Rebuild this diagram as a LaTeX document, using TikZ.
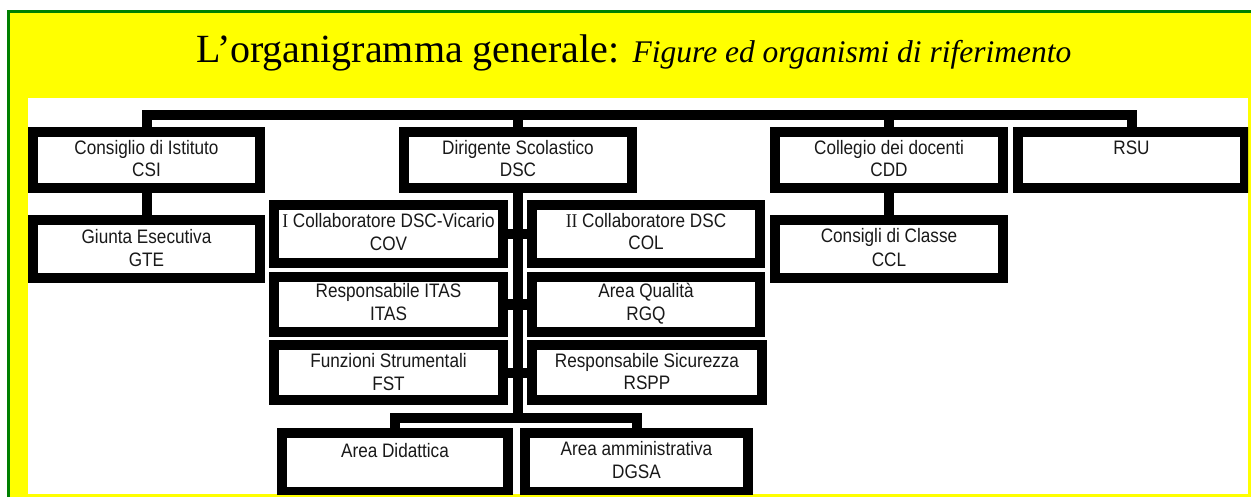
\documentclass[tikz,border=0pt]{standalone}
\usepackage{fontspec}
\setmainfont{Liberation Serif}
\newfontfamily\boxfont[FakeStretch=0.88]{Liberation Sans}
\newfontfamily\romI[FakeStretch=0.9]{Liberation Serif}
\usetikzlibrary{calc}
\definecolor{frameyellow}{HTML}{FFFF00}
\definecolor{framegreen}{HTML}{008000}
\newcommand{\mkbox}[5]{\node[orgbox, minimum width={#4-#2-10}, minimum height={#5-#3-10}] (#1) at ({(#2+#4)/2},{(#3+#5)/2}) {};}
\begin{document}
\begin{tikzpicture}[x=1pt,y=-1pt,
  orgbox/.style={draw=black, line width=10pt, fill=white, inner sep=0pt, rectangle},
  conn/.style={draw=black, line width=10pt, line join=miter},
  lbl/.style={font=\boxfont\fontsize{19.5}{22}\selectfont, inner sep=0pt, anchor=base, text=black!90}]
\useasboundingbox (0,0) rectangle (1251,497);
\fill[white] (0,0) rectangle (1251,497);
\fill[frameyellow] (8,10) rectangle (1251,497);
\draw[framegreen, line width=2.7pt] (8.7,497) -- (8.7,11.3) -- (1251,11.3);
\fill[white] (28,98) rectangle (1248,494);
\node[anchor=base west, inner sep=0pt] (title) at (196,63)
  {\fontsize{40}{46}\selectfont L’organigramma generale: {\itshape\fontsize{31.5}{36}\selectfont Figure ed organismi di riferimento}};
\begin{scope}
\clip (28,98) rectangle (1248,494);
% boxes
\mkbox{csi}{28}{127}{265}{193}
\mkbox{gte}{28}{215}{265}{283}
\mkbox{dsc}{399}{127}{637}{193}
\mkbox{cov}{269}{200}{508}{268}
\mkbox{col}{527}{200}{765}{268}
\mkbox{itas}{269}{272}{508}{337}
\mkbox{rgq}{527}{272}{765}{337}
\mkbox{fst}{269}{340}{508}{405}
\mkbox{rspp}{527}{340}{767}{405}
\mkbox{ad}{277}{428}{513}{497}
\mkbox{aa}{520}{428}{753}{497}
\mkbox{cdd}{770}{127}{1008}{193}
\mkbox{ccl}{770}{215}{1008}{283}
\mkbox{rsu}{1013}{127}{1250}{193}
% connectors
\coordinate (bus) at (600,115.5);
\coordinate (bbus) at (500,417.5);
\draw[conn] (csi.north) -- (csi.north |- bus) -- (rsu.north |- bus) -- (rsu.north);
\draw[conn] (dsc.north) -- (dsc.north |- bus);
\draw[conn] (cdd.north) -- (cdd.north |- bus);
\draw[conn] (csi.south) -- (gte.north);
\draw[conn] (cdd.south) -- (ccl.north);
\draw[conn] (dsc.south) -- (dsc.south |- bbus);
\draw[conn] (ad.north) -- (ad.north |- bbus) -- (aa.north |- bbus) -- (aa.north);
\draw[conn] (cov.east) -- (col.west);
\draw[conn] (itas.east) -- (rgq.west);
\draw[conn] (fst.east) -- (rspp.west);
% labels
\node[lbl] (csia) at ($(csi.north)+(0,28)$) {Consiglio di Istituto};
\node[lbl] (csib) at ($(csi.north)+(0,50)$) {CSI};
\node[lbl] (gtea) at ($(gte.north)+(0,29)$) {Giunta Esecutiva};
\node[lbl] (gteb) at ($(gte.north)+(0,52)$) {GTE};
\node[lbl] (dsca) at ($(dsc.north)+(0,28)$) {Dirigente Scolastico};
\node[lbl] (dscb) at ($(dsc.north)+(0,50)$) {DSC};
\node[lbl] (cova) at ($(cov.north)+(0,28)$) {{\romI I} Collaboratore DSC-Vicario};
\node[lbl] (covb) at ($(cov.north)+(0,51)$) {COV};
\node[lbl] (cola) at ($(col.north)+(0,28)$) {{\romI II} Collaboratore DSC};
\node[lbl] (colb) at ($(col.north)+(0,50)$) {COL};
\node[lbl] (itasa) at ($(itas.north)+(0,26)$) {Responsabile ITAS};
\node[lbl] (itasb) at ($(itas.north)+(0,48)$) {ITAS};
\node[lbl] (rgqa) at ($(rgq.north)+(0,26)$) {Area Qualità};
\node[lbl] (rgqb) at ($(rgq.north)+(0,48)$) {RGQ};
\node[lbl] (fsta) at ($(fst.north)+(0,27)$) {Funzioni Strumentali};
\node[lbl] (fstb) at ($(fst.north)+(0,50)$) {FST};
\node[lbl] (rsppa) at ($(rspp.north)+(0,27)$) {Responsabile Sicurezza};
\node[lbl] (rsppb) at ($(rspp.north)+(0,49)$) {RSPP};
\node[lbl] (ada) at ($(ad.north)+(0,29)$) {Area Didattica};
\node[lbl] (aaa) at ($(aa.north)+(0,27)$) {Area amministrativa};
\node[lbl] (aab) at ($(aa.north)+(0,50)$) {DGSA};
\node[lbl] (cdda) at ($(cdd.north)+(0,28)$) {Collegio dei docenti};
\node[lbl] (cddb) at ($(cdd.north)+(0,50)$) {CDD};
\node[lbl] (ccla) at ($(ccl.north)+(0,28)$) {Consigli di Classe};
\node[lbl] (cclb) at ($(ccl.north)+(0,52)$) {CCL};
\node[lbl] (rsua) at ($(rsu.north)+(0,28)$) {RSU};
\end{scope}
\end{tikzpicture}
\end{document}
